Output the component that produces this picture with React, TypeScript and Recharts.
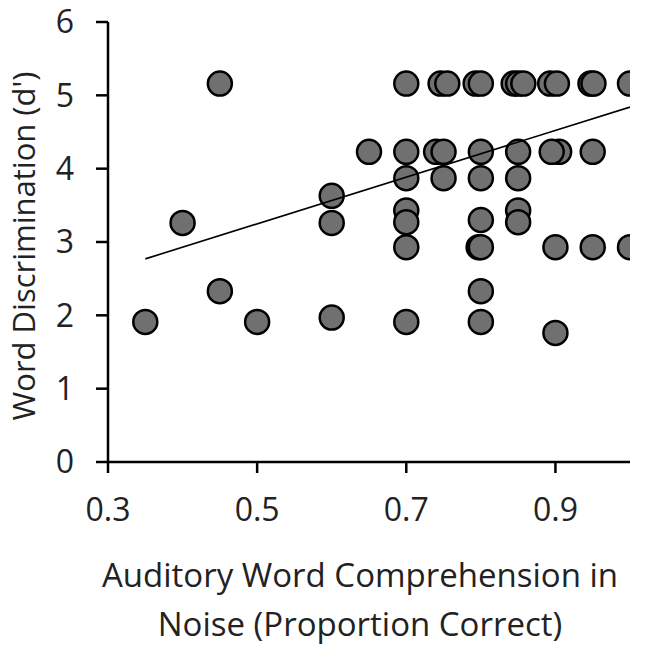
import React from 'react';
import { ScatterChart, Scatter, XAxis, YAxis, Label } from 'recharts';

// comprehension in noise (proportion correct)
const compX = [
  0.35, 0.4, 0.45, 0.45, 0.5, 0.6, 0.6, 0.6, 0.65,
  0.7, 0.7, 0.7, 0.7, 0.7, 0.7, 0.7,
  0.746, 0.755, 0.74, 0.75, 0.75,
  0.793, 0.8, 0.8, 0.8, 0.8, 0.797, 0.8, 0.8, 0.8,
  0.844, 0.85, 0.857, 0.85, 0.85, 0.85, 0.85,
  0.905, 0.895, 0.893, 0.902, 0.9, 0.9,
  0.947, 0.951, 0.95, 0.95, 1.0, 1.0,
];
// word discrimination d'
const dPrime = [
  1.91, 3.26, 5.16, 2.33, 1.91, 3.63, 3.26, 1.97, 4.23,
  5.16, 4.23, 3.87, 3.43, 3.27, 2.93, 1.91,
  5.16, 5.16, 4.23, 4.23, 3.87,
  5.16, 5.16, 4.23, 3.87, 3.3, 2.93, 2.93, 2.33, 1.91,
  5.16, 5.16, 5.16, 4.23, 3.87, 3.43, 3.27,
  4.23, 4.23, 5.16, 5.16, 2.93, 1.76,
  5.16, 5.16, 4.23, 2.93, 5.16, 2.93,
];

// linear fit end points
const fitX = [0.35, 1.0];
const fitY = [2.77, 4.84];

const xTicks = [0.3, 0.5, 0.7, 0.9];
const yTicks = [0, 1, 2, 3, 4, 5, 6];

const points = compX.map((x, i) => ({ x, y: dPrime[i] }));
const fitLine = fitX.map((x, i) => ({ x, y: fitY[i] }));

const FONT = 'Open Sans, sans-serif';
const TXT = '#222';

const Dot = (props: any) => (
  <circle cx={props.cx} cy={props.cy} r={12} fill="#707070" stroke="#000" strokeWidth={2.5} />
);

export default function App() {
  return (
    <div style={{ position: 'absolute', left: 0, top: 0, background: '#fff' }}>
      <ScatterChart width={649} height={651} margin={{ top: 22, right: 19, left: 0, bottom: 0 }}>
        <XAxis
          type="number"
          dataKey="x"
          domain={[0.3, 1.0]}
          ticks={xTicks}
          tickFormatter={(v: number) => v.toFixed(1)}
          height={189}
          axisLine={{ stroke: '#000', strokeWidth: 2.5 }}
          tickLine={{ stroke: '#000', strokeWidth: 2.5 }}
          tickSize={11}
          tickMargin={25}
          tick={{ fill: TXT, fontSize: 32, fontFamily: FONT }}
          allowDataOverflow
        >
          <Label
            content={({ viewBox }: any) => {
              const cx = 360;
              return (
                <text x={cx} textAnchor="middle" fill={TXT} fontSize={33} fontFamily={FONT}>
                  <tspan x={cx} y={viewBox.y + 125}>Auditory Word Comprehension in</tspan>
                  <tspan x={cx} y={viewBox.y + 174}>Noise (Proportion Correct)</tspan>
                </text>
              );
            }}
          />
        </XAxis>
        <YAxis
          type="number"
          dataKey="y"
          domain={[0, 6]}
          ticks={yTicks}
          width={108}
          axisLine={{ stroke: '#000', strokeWidth: 2.5 }}
          tickLine={{ stroke: '#000', strokeWidth: 2.5 }}
          tickSize={12}
          tickMargin={22}
          tick={{ fill: TXT, fontSize: 32, fontFamily: FONT }}
        >
          <Label
            content={({ viewBox }: any) => {
              const cy = viewBox.y + viewBox.height / 2 + 4;
              return (
                <text
                  x={35}
                  y={cy}
                  transform={`rotate(-90, 35, ${cy})`}
                  textAnchor="middle"
                  fill={TXT}
                  fontSize={31}
                  fontFamily={FONT}
                >
                  Word Discrimination (d')
                </text>
              );
            }}
          />
        </YAxis>
        <Scatter data={points} shape={Dot} isAnimationActive={false} />
        <Scatter
          data={fitLine}
          line={{ stroke: '#000', strokeWidth: 1.6 }}
          shape={() => null}
          isAnimationActive={false}
        />
      </ScatterChart>
    </div>
  );
}
